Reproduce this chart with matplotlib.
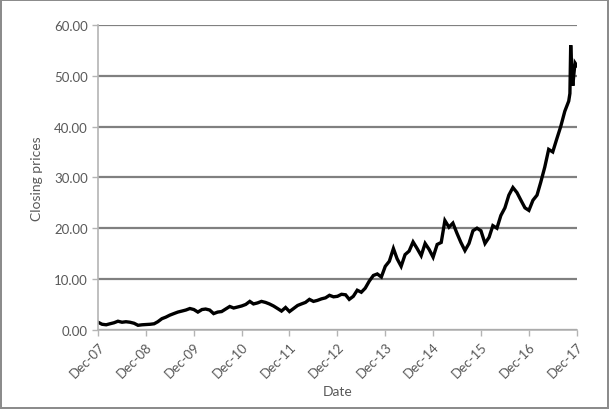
import pandas as pd
import matplotlib.pyplot as plt
import matplotlib.dates as mdates
from matplotlib.ticker import FormatStrFormatter

plt.rcParams['font.family'] = ['Lato', 'DejaVu Sans']

# Monthly closing prices, Dec 2007 .. Oct 2017
monthly = [
    1.5,
    1.1, 1.0, 1.2, 1.4, 1.7, 1.5, 1.6, 1.5, 1.3, 0.9, 1.0, 1.05,        # 2008
    1.1, 1.2, 1.6, 2.2, 2.5, 2.9, 3.2, 3.5, 3.7, 3.9, 4.2, 4.0,         # 2009
    3.5, 4.0, 4.1, 3.9, 3.2, 3.5, 3.6, 4.1, 4.6, 4.3, 4.5, 4.7,         # 2010
    5.0, 5.6, 5.1, 5.3, 5.6, 5.4, 5.1, 4.7, 4.2, 3.7, 4.4, 3.6,         # 2011
    4.2, 4.8, 5.1, 5.4, 6.0, 5.6, 5.8, 6.1, 6.3, 6.8, 6.5, 6.6,         # 2012
    7.0, 6.9, 6.0, 6.6, 7.8, 7.4, 8.2, 9.6, 10.7, 11.0, 10.4, 12.5,     # 2013
    13.5, 16.0, 14.0, 12.5, 14.8, 15.5, 17.3, 16.0, 14.6, 17.0, 15.8, 14.3,  # 2014
    16.8, 17.2, 21.5, 20.2, 21.0, 19.0, 17.2, 15.6, 17.0, 19.5, 20.0, 19.5,  # 2015
    17.0, 18.2, 20.5, 20.0, 22.5, 24.0, 26.5, 28.0, 27.0, 25.5, 24.0, 23.5,  # 2016
    25.5, 26.5, 29.0, 32.0, 35.5, 35.0, 37.5, 40.0, 43.0, 45.0,              # 2017
]
monthly_dates = pd.date_range('2007-12-01', periods=len(monthly), freq='MS')

# End of 2017 in more detail (spike and pull-back)
late_dates = pd.to_datetime(['2017-10-10', '2017-10-16', '2017-10-18', '2017-10-25',
                             '2017-11-01', '2017-11-10', '2017-11-18', '2017-12-01'])
late_prices = [46.5, 56.0, 54.5, 50.0, 48.0, 50.5, 52.5, 52.0]

dates = list(monthly_dates) + list(late_dates)
prices = monthly + late_prices

tick_dates = pd.date_range('2007-12-01', '2017-12-01', freq='12MS')

fig = plt.figure(figsize=(6.09, 4.10), dpi=100, edgecolor='#8c8c8c', linewidth=1.5)
ax = fig.add_axes([0.161, 0.193, 0.786, 0.744])

ax.plot(dates, prices, color='black', lw=2.4, solid_joinstyle='miter')

ax.set_xlim(tick_dates[0], tick_dates[-1])
ax.set_ylim(0, 60)
ax.set_yticks(range(0, 61, 10))
ax.yaxis.set_major_formatter(FormatStrFormatter('%.2f'))
ax.set_xticks(tick_dates)
ax.xaxis.set_major_formatter(mdates.DateFormatter('%b-%y'))

ax.grid(axis='y', color='#808080', lw=1.6)
ax.set_axisbelow(True)
for s in ['top', 'right']:
    ax.spines[s].set_visible(False)
for s in ['left', 'bottom']:
    ax.spines[s].set_color('#b4b4b4')
    ax.spines[s].set_linewidth(1.2)

ax.tick_params(axis='both', colors='#b4b4b4', labelcolor='#595959', labelsize=9.5, length=4, width=1)
for lbl in ax.get_xticklabels():
    lbl.set_rotation(45)
    lbl.set_ha('right')
    lbl.set_rotation_mode('anchor')

ax.set_xlabel('Date', color='#595959', fontsize=10, labelpad=4)
ax.set_ylabel('Closing prices', color='#595959', fontsize=10, labelpad=8)

fig.savefig('out.png', dpi=100)
